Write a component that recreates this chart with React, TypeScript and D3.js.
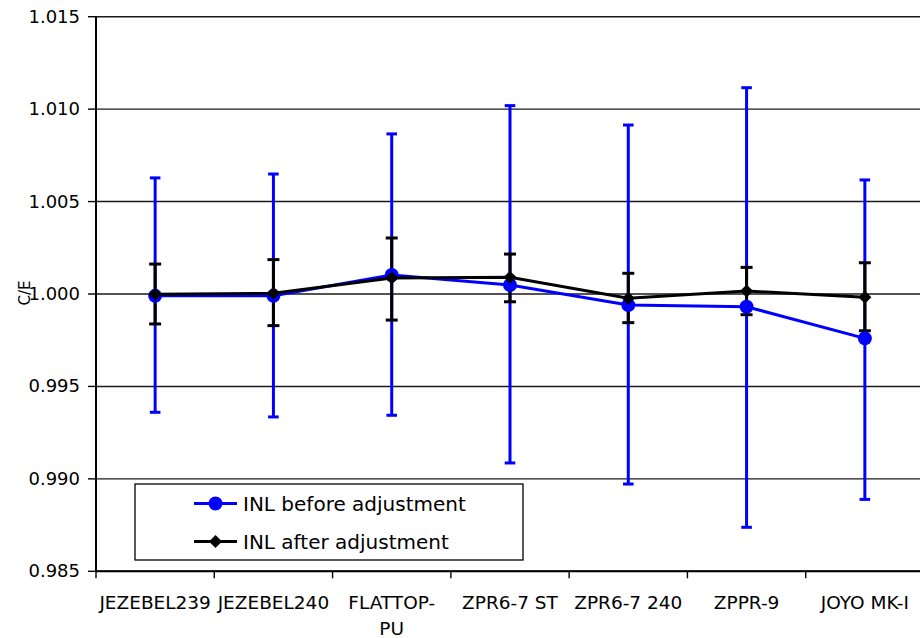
import React from "react";
import * as d3 from "d3";

const categories: string[][] = [
  ["JEZEBEL239"],
  ["JEZEBEL240"],
  ["FLATTOP-", "PU"],
  ["ZPR6-7 ST"],
  ["ZPR6-7 240"],
  ["ZPPR-9"],
  ["JOYO MK-I"],
];

// INL before adjustment: value, lower bound, upper bound
const beforeValue = [0.9999, 0.9999, 1.00103, 1.00049, 0.9994, 0.99931, 0.9976];
const beforeLow = [0.9936, 0.99335, 0.99344, 0.99086, 0.98972, 0.98738, 0.98889];
const beforeHigh = [1.00628, 1.00649, 1.00866, 1.01019, 1.00914, 1.01116, 1.00617];

// INL after adjustment
const afterValue = [0.99998, 1.00004, 1.00087, 1.0009, 0.99977, 1.00016, 0.99982];
const afterLow = [0.99838, 0.99829, 0.99859, 0.99958, 0.99845, 0.99888, 0.99801];
const afterHigh = [1.00162, 1.00186, 1.00303, 1.00216, 1.00112, 1.00144, 1.00169];

const yTicks = [0.985, 0.99, 0.995, 1.0, 1.005, 1.01, 1.015];
const yLabel = "C/E";
const legendLabels = ["INL before adjustment", "INL after adjustment"];

const FONT = "DejaVu Sans, Verdana, sans-serif";

export default function App() {
  const W = 920;
  const H = 638;
  const left = 96;
  const right = 924;
  const top = 16.7;
  const bottom = 571.3;

  const x = d3
    .scaleBand<number>()
    .domain(d3.range(categories.length))
    .range([left, right])
    .padding(0);
  const y = d3.scaleLinear().domain([0.985, 1.015]).range([bottom, top]);
  const cx = (i: number) => (x(i) as number) + x.bandwidth() / 2;

  const lineGen = d3
    .line<number>()
    .x((_, i) => cx(i))
    .y((v) => y(v));

  const diamond = (px: number, py: number, r: number) =>
    `M${px},${py - r}L${px + r},${py}L${px},${py + r}L${px - r},${py}Z`;

  const blue = "#0000FF";
  const black = "#000000";

  const errBars = (
    lo: number[],
    hi: number[],
    color: string,
    capHalf: number,
    key: string
  ) =>
    lo.map((l, i) => {
      const px = cx(i);
      return (
        <g key={key + i} stroke={color} strokeWidth={3}>
          <line x1={px} x2={px} y1={y(hi[i])} y2={y(l)} />
          <line x1={px - capHalf} x2={px + capHalf} y1={y(hi[i])} y2={y(hi[i])} />
          <line x1={px - capHalf} x2={px + capHalf} y1={y(l)} y2={y(l)} />
        </g>
      );
    });

  return (
    <svg
      width={W}
      height={H}
      style={{ position: "fixed", left: 0, top: 0, display: "block", background: "#fff" }}
      fontFamily={FONT}
    >
      <rect x={0} y={0} width={W} height={H} fill="#fff" />
      {/* gridlines */}
      {yTicks.map((t) => (
        <line
          key={"g" + t}
          x1={left}
          x2={right}
          y1={y(t)}
          y2={y(t)}
          stroke="#1a1a1a"
          strokeWidth={1.4}
        />
      ))}
      {/* y ticks and labels */}
      {yTicks.map((t) => (
        <g key={"yt" + t}>
          <line x1={88} x2={left} y1={y(t)} y2={y(t)} stroke="#000" strokeWidth={1.4} />
          <text x={80} y={y(t) + 6} textAnchor="end" fontSize={18} fill="#000">
            {d3.format(".3f")(t)}
          </text>
        </g>
      ))}
      {/* axes */}
      <line x1={left} x2={left} y1={top} y2={bottom} stroke="#000" strokeWidth={2} />
      <line x1={left} x2={right} y1={bottom} y2={bottom} stroke="#000" strokeWidth={2} />
      {d3.range(categories.length + 1).map((i) => {
        const px = left + i * x.bandwidth();
        return (
          <line key={"xt" + i} x1={px} x2={px} y1={bottom} y2={bottom + 7} stroke="#000" strokeWidth={1.4} />
        );
      })}
      {categories.map((lines, i) => (
        <text key={"xl" + i} x={cx(i)} y={609} textAnchor="middle" fontSize={18.5} fill="#000">
          {lines.map((ln, j) => (
            <tspan key={j} x={cx(i)} dy={j === 0 ? 0 : 26}>
              {ln}
            </tspan>
          ))}
        </text>
      ))}
      {/* y label */}
      <text
        transform={`translate(30,293) rotate(-90)`}
        textAnchor="middle"
        fontSize={15}
        fill="#000"
      >
        {yLabel}
      </text>

      {/* error bars */}
      {errBars(beforeLow, beforeHigh, blue, 5.3, "be")}
      {errBars(afterLow, afterHigh, black, 6, "ae")}

      {/* before series */}
      <path d={lineGen(beforeValue) || ""} fill="none" stroke={blue} strokeWidth={3} />
      {beforeValue.map((v, i) => (
        <circle key={"bc" + i} cx={cx(i)} cy={y(v)} r={7} fill={blue} />
      ))}

      {/* after series */}
      <path d={lineGen(afterValue) || ""} fill="none" stroke={black} strokeWidth={3} />
      {afterValue.map((v, i) => (
        <path key={"ad" + i} d={diamond(cx(i), y(v), 6.5)} fill={black} />
      ))}

      {/* legend */}
      <g>
        <rect x={135} y={484} width={388} height={76} fill="#fff" stroke="#000" strokeWidth={1.3} />
        <line x1={194} x2={237} y1={503.5} y2={503.5} stroke={blue} strokeWidth={3} />
        <circle cx={215.5} cy={503.5} r={7} fill={blue} />
        <text x={243} y={511} fontSize={20} fill="#000">
          {legendLabels[0]}
        </text>
        <line x1={194} x2={237} y1={541.5} y2={541.5} stroke={black} strokeWidth={3} />
        <path d={diamond(215.5, 541.5, 6.5)} fill={black} />
        <text x={243} y={549} fontSize={20} fill="#000">
          {legendLabels[1]}
        </text>
      </g>
    </svg>
  );
}
